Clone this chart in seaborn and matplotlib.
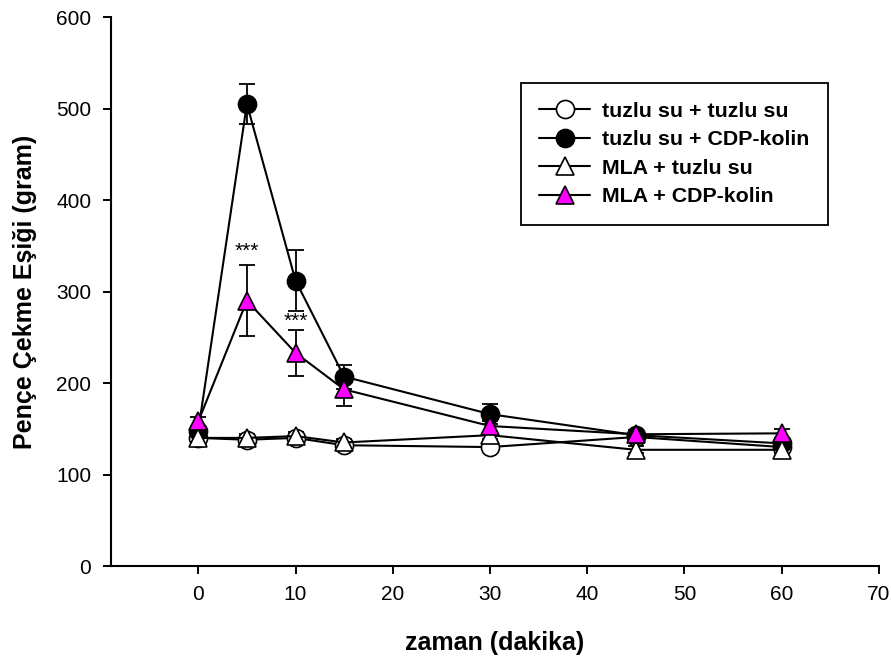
import matplotlib
matplotlib.use("Agg")
import matplotlib.pyplot as plt
import seaborn as sns
import numpy as np

time = [0, 5, 10, 15, 30, 45, 60]
saline_saline = [140, 138, 140, 132, 130, 141, 130]
saline_saline_err = [4, 4, 4, 4, 4, 4, 4]
saline_cdp = [148, 505, 312, 207, 166, 143, 134]
saline_cdp_err = [5, 22, 33, 13, 11, 5, 5]
mla_saline = [140, 140, 142, 135, 143, 127, 127]
mla_saline_err = [4, 4, 4, 4, 4, 4, 4]
mla_cdp = [158, 290, 233, 193, 153, 144, 145]
mla_cdp_err = [5, 39, 25, 18, 6, 5, 5]
labels = ["tuzlu su + tuzlu su", "tuzlu su + CDP-kolin", "MLA + tuzlu su", "MLA + CDP-kolin"]
stars = [(5, 344, "***"), (10, 267, "***")]

sns.set_style("ticks")
plt.rcParams['font.family'] = ['Liberation Sans', 'DejaVu Sans']
plt.rcParams['text.color'] = 'black'
plt.rcParams['axes.labelcolor'] = 'black'
plt.rcParams['axes.edgecolor'] = 'black'
plt.rcParams['xtick.color'] = 'black'
plt.rcParams['ytick.color'] = 'black'

fig = plt.figure(figsize=(8.91, 6.59), dpi=100)
ax = fig.add_axes([0.1243, 0.1411, 0.8622, 0.8331])

series = [
    (saline_saline, saline_saline_err, 'o', 'white'),
    (saline_cdp, saline_cdp_err, 'o', 'black'),
    (mla_saline, mla_saline_err, '^', 'white'),
    (mla_cdp, mla_cdp_err, '^', '#ff00ff'),
]
for (vals, errs, mk, fc), lab in zip(series, labels):
    ax.errorbar(time, vals, yerr=errs, fmt='none', ecolor='black', elinewidth=1.3,
                capsize=6, capthick=1.3, zorder=2)
    sns.lineplot(x=time, y=vals, ax=ax, color='black', linewidth=1.5, marker=mk,
                 markersize=13, markerfacecolor=fc, markeredgecolor='black',
                 markeredgewidth=1.2, label=lab, zorder=3)

for x, y, s in stars:
    ax.text(x, y, s, ha='center', va='center', fontsize=15, color='black')

ax.set_xlim(-9, 70)
ax.set_ylim(0, 600)
ax.set_xticks([0, 10, 20, 30, 40, 50, 60, 70])
ax.set_yticks([0, 100, 200, 300, 400, 500, 600])
ax.tick_params(axis='both', labelsize=15, direction='out', length=6, width=1.4, pad=8,
               colors='black')
for s in ['left', 'bottom']:
    ax.spines[s].set_linewidth(1.5)
    ax.spines[s].set_color('black')
sns.despine(ax=ax)
ax.set_xlabel("zaman (dakika)", fontsize=18, fontweight='bold', labelpad=19, color='black')
ax.set_ylabel("Pençe Çekme Eşiği (gram)", fontsize=18, fontweight='bold', labelpad=14,
              color='black')

leg = ax.legend(loc='upper left', bbox_to_anchor=(0.534, 0.879), borderaxespad=0,
                frameon=True, fancybox=False,
                edgecolor='black', framealpha=1, prop={'weight': 'bold', 'size': 15.4},
                handlelength=2.4, handletextpad=0.55, borderpad=0.85, labelspacing=0.45)
leg.get_frame().set_linewidth(1.3)
for t in leg.get_texts():
    t.set_color('black')

fig.savefig("out.png", dpi=100)
